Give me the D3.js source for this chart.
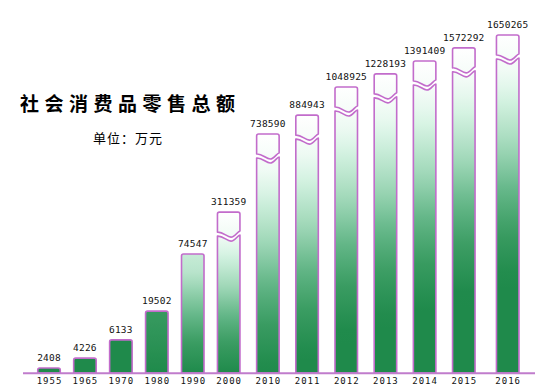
<!DOCTYPE html>
<html>
<head>
<meta charset="utf-8">
<script src="https://cdn.jsdelivr.net/npm/d3@7"></script>
<style>
  body { margin: 0; background: #fff; }
  svg { display: block; }
</style>
</head>
<body>
<div id="chart"></div>
<script>
// data
var years = ["1955", "1965", "1970", "1980", "1990", "2000", "2010", "2011", "2012", "2013", "2014", "2015", "2016"];
var sales = [2408, 4226, 6133, 19502, 74547, 311359, 738590, 884943, 1048925, 1228193, 1391409, 1572292, 1650265];
// bar heights as drawn in the picture (% of the tallest bar), the chart is not to scale
var drawnHeight = [1.5, 4.4, 9.8, 18.3, 35.2, 47.6, 70.7, 76.3, 84.6, 88.5, 92.3, 96.2, 100];
var breakAbove = 100000; // bars above this get the broken-bar mark
var title = "社会消费品零售总额";
var unitLabel = "单位：万元";

var width = 553, height = 391;
var baseY = 373, topY = 35;
var barW = 22.5;
var edge = "#c26ccb";
var shade = d3.piecewise(d3.interpolateRgb, ["#1f8a4b", "#3a9c62", "#66b88a", "#a2d9ba", "#d6f3e3", "#ffffff"]);
// how fast a bar fades to white going up
var ramp = d3.scaleLinear().domain([0, 0.3, 0.5, 0.72, 0.85, 1]).range([0, 0.32, 0.55, 0.78, 0.93, 1]).clamp(true);

var svg = d3.select("#chart").append("svg")
    .attr("width", width)
    .attr("height", height);

// bars get a bit wider apart to the right
var x = d3.scaleLinear().domain([0, 5, 11, 12]).range([49, 228.7, 463.8, 507.7]);
var y = d3.scaleLinear().domain([0, 100]).range([baseY, topY]);

var defs = svg.append("defs");
years.forEach(function(yr, i) {
  var top = y(drawnHeight[i]);
  var h = baseY - top;
  var topW = Math.max(0, Math.min(1, (h - 45) / 100));
  var s = Math.max(0, Math.min(0.28, (h - 230) / 108 * 0.28));
  var g = defs.append("linearGradient")
      .attr("id", "grad" + i)
      .attr("gradientUnits", "userSpaceOnUse")
      .attr("x1", 0).attr("x2", 0)
      .attr("y1", baseY).attr("y2", top);
  d3.range(0, 1.001, 0.05).forEach(function(t) {
    var w = ramp(Math.max(0, (t - s) / (1 - s))) * topW;
    g.append("stop")
        .attr("offset", t)
        .attr("stop-color", shade(w));
  });
});

function barPaths(i) {
  var cx = x(i), x0 = cx - barW / 2, x1 = cx + barW / 2, w = barW;
  var top = y(drawnHeight[i]), r = 2;
  var head = "M" + x0 + "," + baseY + "V" + (top + r) +
      "Q" + x0 + "," + top + " " + (x0 + r) + "," + top +
      "H" + (x1 - r) + "Q" + x1 + "," + top + " " + x1 + "," + (top + r);
  if (sales[i] <= breakAbove) {
    return [head + "V" + baseY + "Z"];
  }
  var yb = top + 20, yb2 = top + 24, dx = x0 + 0.6 * w;
  var upper = head.replace("M" + x0 + "," + baseY, "M" + x0 + "," + yb) +
      "V" + (yb - 1) +
      "C" + (x0 + 0.9 * w) + "," + (yb - 1) + " " + (x0 + 0.78 * w) + "," + (yb + 5) + " " + dx + "," + (yb + 5) +
      "C" + (x0 + 0.42 * w) + "," + (yb + 5) + " " + (x0 + 0.25 * w) + "," + (yb - 0.5) + " " + x0 + "," + yb + "Z";
  var lower = "M" + x0 + "," + baseY + "V" + yb2 +
      "C" + (x0 + 0.25 * w) + "," + (yb2 - 0.5) + " " + (x0 + 0.42 * w) + "," + (yb2 + 5) + " " + dx + "," + (yb2 + 5) +
      "C" + (x0 + 0.78 * w) + "," + (yb2 + 5) + " " + (x0 + 0.9 * w) + "," + (yb2 - 1) + " " + x1 + "," + (yb2 - 1) +
      "V" + baseY + "Z";
  return [upper, lower];
}

var bars = svg.selectAll(".bar")
    .data(years)
  .enter().append("g")
    .attr("class", "bar");

bars.selectAll("path")
    .data(function(d, i) { return barPaths(i).map(function(p) { return {p: p, i: i}; }); })
  .enter().append("path")
    .attr("d", function(d) { return d.p; })
    .attr("fill", function(d) { return "url(#grad" + d.i + ")"; })
    .attr("stroke", edge)
    .attr("stroke-width", 1.6)
    .attr("stroke-linejoin", "round");

// value labels
svg.selectAll(".val")
    .data(sales)
  .enter().append("text")
    .attr("class", "val")
    .attr("x", function(d, i) { return x(i); })
    .attr("y", function(d, i) { return y(drawnHeight[i]) - 7; })
    .attr("text-anchor", "middle")
    .style("font-family", "'DejaVu Sans Mono', monospace")
    .style("font-size", "9.5px")
    .style("letter-spacing", "0.2px")
    .attr("fill", "#111")
    .text(function(d) { return d; });

// axis line
svg.append("line")
    .attr("x1", 23).attr("x2", 535)
    .attr("y1", baseY + 0.3).attr("y2", baseY + 0.3)
    .attr("stroke", "#c07ccc")
    .attr("stroke-width", 2);

// year labels
svg.selectAll(".yr")
    .data(years)
  .enter().append("text")
    .attr("class", "yr")
    .attr("x", function(d, i) { return x(i) + 0.5; })
    .attr("y", 384)
    .attr("text-anchor", "middle")
    .style("font-family", "'DejaVu Sans Mono', monospace")
    .style("font-size", "9px")
    .style("letter-spacing", "1px")
    .attr("fill", "#111")
    .text(function(d) { return d; });

// title
svg.append("text")
    .attr("x", 20)
    .attr("y", 111)
    .style("font-family", "'Noto Sans CJK SC', sans-serif")
    .style("font-size", "19px")
    .style("font-weight", "bold")
    .style("letter-spacing", "5.5px")
    .attr("fill", "#000")
    .text(title);

svg.append("text")
    .attr("x", 93)
    .attr("y", 143)
    .style("font-family", "'Noto Sans CJK SC', sans-serif")
    .style("font-size", "13px")
    .style("letter-spacing", "1px")
    .attr("fill", "#000")
    .text(unitLabel);
</script>
</body>
</html>
